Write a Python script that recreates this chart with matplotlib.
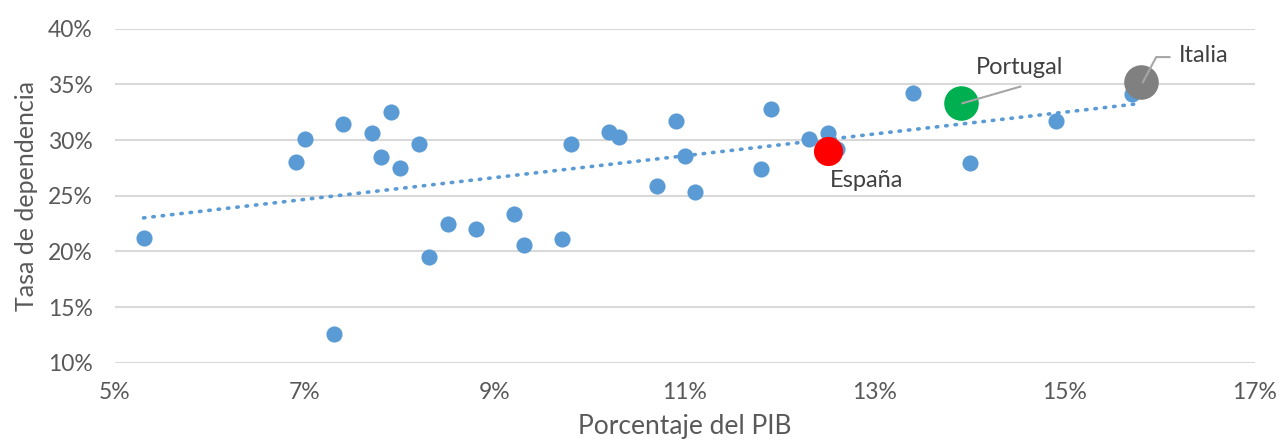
import numpy as np
import matplotlib.pyplot as plt
from matplotlib.ticker import PercentFormatter

plt.rcParams['font.family'] = ['Lato', 'DejaVu Sans']

# porcentaje del PIB (x) y tasa de dependencia (y), resto de paises
pib = [5.3, 6.9, 7.0, 7.4, 7.7, 7.8, 7.9, 8.0, 8.2, 7.3, 8.3, 8.5, 8.8, 9.2,
       9.3, 9.7, 9.8, 10.2, 10.3, 10.7, 10.9, 11.0, 11.1, 11.8, 11.9, 12.3,
       12.5, 12.6, 13.4, 14.0, 14.9, 15.7]
tasa = [21.2, 28.0, 30.1, 31.4, 30.6, 28.5, 32.5, 27.5, 29.6, 12.6, 19.5, 22.5,
        22.0, 23.4, 20.6, 21.1, 29.6, 30.7, 30.3, 25.9, 31.7, 28.6, 25.3, 27.4,
        32.8, 30.1, 30.6, 29.2, 34.2, 27.9, 31.7, 34.1]

# paises destacados
destacados = ['España', 'Portugal', 'Italia']
dest_pib = [12.5, 13.9, 15.8]
dest_tasa = [29.0, 33.3, 35.2]
dest_color = ['#FF0000', '#00B050', '#808080']
dest_size = [440, 620, 620]

gris = '#595959'

fig = plt.figure(figsize=(12.84, 4.44), dpi=100)
ax = fig.add_axes([115 / 1284, 1 - 362.7 / 444, 1140 / 1284, 334 / 444])

ax.scatter(pib, tasa, s=135, color='#5B9BD5', zorder=3, linewidths=0)

# linea de tendencia (todos los puntos)
all_x = np.array(pib + dest_pib)
all_y = np.array(tasa + dest_tasa)
m, b = np.polyfit(all_x, all_y, 1)
tx = np.array([min(all_x), 15.75])
ax.plot(tx, m * tx + b, color='#5B9BD5', lw=2.6,
        linestyle=(0, (0.4, 2.2)), dash_capstyle='round', zorder=2)

for name, x, y, c, s in zip(destacados, dest_pib, dest_tasa, dest_color, dest_size):
    ax.scatter([x], [y], s=s, color=c, zorder=4, linewidths=0)

# etiquetas
ax.text(12.52, 26.4, 'España', fontsize=17, color='#404040', va='center', ha='left')
ax.plot([13.92, 14.53], [33.3, 34.8], color='#A6A6A6', lw=1.5, zorder=5)
ax.text(14.06, 36.5, 'Portugal', fontsize=17, color='#404040', va='center', ha='left')
ax.plot([15.82, 15.96, 16.1], [35.2, 37.45, 37.45], color='#A6A6A6', lw=1.5, zorder=5)
ax.text(16.2, 37.6, 'Italia', fontsize=17, color='#404040', va='center', ha='left')

ax.set_xlim(5, 17)
ax.set_ylim(10, 40)
ax.set_xticks(np.arange(5, 18, 2))
ax.set_yticks(np.arange(10, 41, 5))
ax.xaxis.set_major_formatter(PercentFormatter(decimals=0))
ax.yaxis.set_major_formatter(PercentFormatter(decimals=0))
ax.grid(axis='y', color='#D9D9D9', lw=1.5)
ax.set_axisbelow(True)
for sp in ax.spines.values():
    sp.set_visible(False)
ax.tick_params(length=0, labelsize=16.5, labelcolor=gris)
ax.tick_params(axis='y', pad=16)
ax.tick_params(axis='x', pad=14)
ax.set_xlabel('Porcentaje del PIB', fontsize=19, color=gris, labelpad=8)
ax.set_ylabel('Tasa de dependencia', fontsize=18, color=gris, labelpad=7)

fig.savefig('out.png', dpi=100)
